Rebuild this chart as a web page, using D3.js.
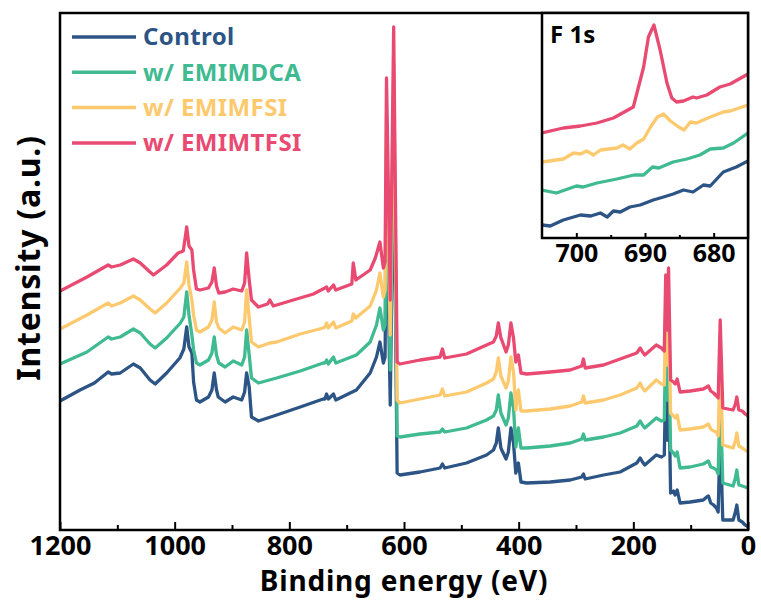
<!DOCTYPE html>
<html>
<head>
<meta charset="utf-8">
<script src="https://cdn.jsdelivr.net/npm/d3@7"></script>
<style>
  html, body { margin: 0; padding: 0; background: #fff; }
  svg { display: block; font-family: "Noto Sans", "Open Sans", sans-serif; font-weight: 700; }
</style>
</head>
<body>
<svg id="chart" width="761" height="604"></svg>
<script>
// Survey spectra: [binding energy (eV), intensity (a.u.)]
const controlSurvey = [
  [1200,129],[1165,140],[1140,147],[1116,158],[1110,156],[1095,157],[1072,166],[1060,162],[1043,150],[1034,146],
  [1014,157],[991,172],[984,181],[979,203],[975,183],[970,177],[967,148],[962,130],[956,128],[941,133],
  [935,140],[931,157],[927,140],[924,133],[912,128],[898,133],[883,130],[878,138],[874.5,157],[870,143],
  [866,113],[854,109],[822,115],[781,123],[741,131],[738,131],[735,136],[732,131],[723,136],[719,130],
  [683,140],[659,157],[648,173],[642,188],[636,167],[633,173],[630.5,341],[624,125],[618,392],[612,57],
  [607,55],[572,58],[537,62],[533,66],[529,62],[491,67],[456,75],[444,80],[439,87],[435.5,102],
  [431,82],[429.5,80],[422,71],[418,78],[413.5,102],[409,87],[405,57],[400.5,67],[396,48],[386,47],
  [345,48],[310,50],[290,53],[287,56],[284,51],[252,55],[223,58],[194,67],[188,72],[184,68],
  [180,65],[160,75],[151,73],[146,75],[143.5,152],[141,90],[138.6,160],[135,37],[130,39],[127,35],
  [123.5,40],[118.5,27],[101,28],[78,30],[72,33],[69,34],[65,27],[60,25],[55,22],[52,18],
  [48.5,100],[44,10],[26,10],[22,18],[19.5,25],[16,10],[10,8],[5,5],[0,3]
];
const dcaSurvey = [
  [1200,166],[1153,178],[1116,193],[1110,191],[1095,193],[1072,201],[1060,197],[1043,186],[1034,182],[1014,192],
  [990,207],[984,213],[979,238],[975,215],[970,195],[967,180],[962,167],[956,165],[941,170],[935,177],
  [931,193],[927,175],[923,167],[912,163],[898,169],[883,165],[878,173],[874.5,200],[870,175],[866,152],
  [854,147],[822,152],[781,159],[741,167],[738,167],[735,170],[732,166],[723,173],[719,167],[683,175],
  [659,188],[648,205],[642,222],[636,200],[633,205],[630.5,378],[624,160],[618,429],[612,94],[607,93],
  [572,96],[537,98],[533,101],[529,98],[491,102],[456,110],[444,114],[439,120],[435.5,135],[431,117],
  [429.5,115],[422,105],[418,112],[413.5,137],[409,122],[405,83],[400.5,102],[396,82],[386,82],[345,84],
  [310,87],[290,91],[287,96],[284,90],[252,93],[223,97],[194,104],[188,109],[184,105],[180,102],
  [160,112],[151,109],[146,110],[143.5,185],[141,130],[138.6,190],[135,80],[130,77],[127,74],[123.5,78],
  [118.5,62],[101,63],[78,66],[72,68],[69,69],[65,63],[60,62],[55,60],[52,56],[48.5,138],
  [44,47],[26,44],[22,52],[19.5,60],[16,45],[10,44],[5,43],[0,42]
];
const fsiSurvey = [
  [1200,201],[1153,215],[1116,227],[1110,224],[1095,227],[1072,234],[1060,230],[1043,221],[1034,217],[1014,227],
  [990,242],[984,247],[979,268],[975,245],[970,230],[967,215],[962,200],[956,198],[941,203],[935,210],
  [931,228],[927,208],[923,202],[912,197],[898,203],[883,200],[878,208],[874.5,240],[870,212],[866,188],
  [854,183],[834,187],[822,188],[781,196],[741,202],[738,203],[735,207],[732,202],[723,208],[719,202],
  [691,209],[688.5,216],[684,212],[659,224],[648,240],[642,257],[636,233],[633,240],[630.5,415],[624,195],
  [618,466],[612,130],[607,127],[572,131],[537,135],[533,141],[529,134],[491,138],[456,147],[444,151],
  [439,158],[435.5,172],[431,154],[429.5,152],[422,142],[418,149],[413.5,173],[409,158],[405,120],[400.5,140],
  [396,119],[386,119],[345,121],[310,124],[290,128],[287,134],[284,127],[252,130],[223,135],[194,142],
  [188,147],[184,142],[180,139],[160,150],[151,146],[146,145],[143.5,220],[141,165],[138.6,226],[135,117],
  [130,114],[127,112],[123.5,115],[118.5,100],[101,101],[78,103],[72,105],[69,106],[65,101],[60,99],
  [55,98],[52,94],[48.5,174],[44,85],[26,82],[22,89],[19.5,97],[16,84],[10,82],[5,80],[0,78]
];
const tfsiSurvey = [
  [1200,239],[1153,253],[1116,265],[1110,263],[1095,265],[1072,271],[1060,267],[1043,258],[1037,255],[1014,265],
  [994,277],[985,279],[979,303],[975,284],[970,280],[967,260],[962,241],[956,240],[941,242],[935,248],
  [931,262],[927,244],[923,237],[912,238],[898,241],[883,239],[878,247],[874.5,277],[870,250],[866,230],
  [854,223],[838,226],[834,230],[828,224],[793,230],[758,236],[738,242],[735,243],[732,239],[723,245],
  [719,240],[691,246],[688.5,267],[684,250],[659,260],[650,272],[642,288],[636,262],[633,268],[630.5,452],
  [624,230],[618,503],[612,168],[607,166],[572,170],[537,173],[533,181],[529,172],[491,176],[456,185],
  [444,188],[439,194],[435.5,207],[431,192],[429.5,190],[422,178],[418,185],[413.5,207],[409,192],[405,168],
  [400.5,175],[396,157],[386,156],[345,158],[310,160],[290,164],[287,171],[284,162],[252,165],[223,171],
  [194,177],[188,182],[184,178],[180,175],[160,185],[151,182],[146,179],[143.5,255],[141,200],[138.6,262],
  [135,150],[130,148],[127,146],[123.5,151],[118.5,138],[101,139],[78,141],[72,143],[69,144],[65,139],
  [60,137],[55,134],[52,132],[48.5,210],[44,122],[26,120],[22,126],[19.5,133],[16,120],[10,119],[5,116],[0,114]
];

// F 1s high-resolution region
const controlF1s = [
  [705,13],[703.8,12],[701.9,18],[699.4,23],[697.9,22],[696.5,25],[695.5,21],[694.6,27],[693.6,26],[692.2,31],
  [690.7,33],[688.8,38],[687.3,41],[685.9,44],[684.4,48],[683,46],[681.5,53],[680.5,52],[678.6,66],[676.7,71],[675,77]
];
const dcaF1s = [
  [705,48],[702.9,45],[700,52],[699,51],[697,55],[694.1,59],[691.6,63],[690.2,63],[688.9,71],[688,70],
  [685.9,76],[683.9,79],[682,83],[680.5,89],[678.6,90],[677.1,95],[675,105]
];
const fsiF1s = [
  [705,76],[701.9,79],[700.4,85],[699.4,84],[698.5,87],[697.5,83],[696.5,88],[694.1,90],[693.2,93],[692.2,89],
  [691.2,95],[690.2,99],[689.2,111],[688.2,121],[687.3,124],[686.3,117],[685.1,111],[684.3,108],[683.4,116],[682.5,115],
  [680.5,121],[678.6,126],[677.6,127],[675,133]
];
const tfsiF1s = [
  [705,105],[701.9,110],[699.4,112],[697,115],[694.6,120],[691.7,131],[690.2,171],[689.5,201],[688.7,213],[687.8,188],
  [686.8,155],[686.1,140],[685.4,136],[684.4,137],[683,141],[682.5,140],[681,143],[679.1,151],[677.6,154],[675,164]
];

const seriesNames = ["Control", "w/ EMIMDCA", "w/ EMIMFSI", "w/ EMIMTFSI"];
const seriesColors = ["#2c5485", "#3fba91", "#fdc96e", "#e84a72"];
const surveyData = [controlSurvey, dcaSurvey, fsiSurvey, tfsiSurvey];
const f1sData = [controlF1s, dcaF1s, fsiF1s, tfsiF1s];

const majorTicks = [1200, 1000, 800, 600, 400, 200, 0];
const minorTicks = [1100, 900, 700, 500, 300, 100];
const insetMajorTicks = [700, 690, 680];
const insetMinorTicks = [695, 685];

const svg = d3.select("#chart");

// ---- main survey panel ----
const M = { left: 60, right: 748, top: 13, bottom: 530 };
const x = d3.scaleLinear().domain([1200, 0]).range([M.left, M.right]);
const y = d3.scaleLinear().domain([0, 517]).range([M.bottom, M.top]);

const line = d3.line().x(d => x(d[0])).y(d => y(d[1]));

svg.append("defs").append("clipPath").attr("id", "mainClip")
  .append("rect").attr("x", M.left).attr("y", M.top)
  .attr("width", M.right - M.left).attr("height", M.bottom - M.top);

const curves = svg.append("g").attr("clip-path", "url(#mainClip)");
surveyData.forEach((d, i) => {
  curves.append("path").datum(d)
    .attr("d", line)
    .attr("fill", "none")
    .attr("stroke", seriesColors[i])
    .attr("stroke-width", 3.3)
    .attr("stroke-linejoin", "round");
});

// x axis with inward ticks
const xAxis = svg.append("g").attr("transform", `translate(0,${M.bottom})`)
  .call(d3.axisBottom(x).tickValues(majorTicks).tickFormat(d3.format("d"))
    .tickSizeInner(-8).tickSizeOuter(0).tickPadding(6));
xAxis.select(".domain").remove();
xAxis.selectAll("line").attr("stroke", "#000").attr("stroke-width", 2);
xAxis.selectAll("text").attr("font-size", 27).attr("font-weight", 700).attr("fill", "#000")
  .attr("font-family", "Noto Sans, sans-serif");

const xMinor = svg.append("g").attr("transform", `translate(0,${M.bottom})`)
  .call(d3.axisBottom(x).tickValues(minorTicks).tickFormat("").tickSizeInner(-5).tickSizeOuter(0));
xMinor.select(".domain").remove();
xMinor.selectAll("line").attr("stroke", "#000").attr("stroke-width", 2);

// frame
svg.append("rect").attr("x", M.left).attr("y", M.top)
  .attr("width", M.right - M.left).attr("height", M.bottom - M.top)
  .attr("fill", "none").attr("stroke", "#000").attr("stroke-width", 2.5);

// axis titles
svg.append("text").attr("x", (M.left + M.right) / 2).attr("y", 591)
  .attr("text-anchor", "middle").attr("font-size", 28).attr("letter-spacing", 0.8).attr("fill", "#000")
  .text("Binding energy (eV)");
svg.append("text").attr("transform", "translate(40,258) rotate(-90)")
  .attr("text-anchor", "middle").attr("font-size", 32).attr("letter-spacing", 0.8).attr("fill", "#000")
  .text("Intensity (a.u.)");

// legend
const legend = svg.append("g");
seriesNames.forEach((name, i) => {
  const ly = 37 + i * 35.3;
  legend.append("line").attr("x1", 72).attr("x2", 136).attr("y1", ly).attr("y2", ly)
    .attr("stroke", seriesColors[i]).attr("stroke-width", 3.5);
  legend.append("text").attr("x", 143).attr("y", ly).attr("dy", "0.35em")
    .attr("font-size", 24).attr("letter-spacing", 0.4).attr("fill", seriesColors[i]).text(name);
});

// ---- F 1s inset ----
const I = { left: 542, right: 748, top: 13, bottom: 238 };
const xi = d3.scaleLinear().domain([705, 675]).range([I.left, I.right]);
const yi = d3.scaleLinear().domain([0, 225]).range([I.bottom, I.top]);
const lineInset = d3.line().x(d => xi(d[0])).y(d => yi(d[1]));

svg.append("rect").attr("x", I.left).attr("y", I.top)
  .attr("width", I.right - I.left).attr("height", I.bottom - I.top).attr("fill", "#fff");

svg.select("defs").append("clipPath").attr("id", "insetClip")
  .append("rect").attr("x", I.left).attr("y", I.top)
  .attr("width", I.right - I.left).attr("height", I.bottom - I.top);

const insetCurves = svg.append("g").attr("clip-path", "url(#insetClip)");
f1sData.forEach((d, i) => {
  insetCurves.append("path").datum(d)
    .attr("d", lineInset)
    .attr("fill", "none")
    .attr("stroke", seriesColors[i])
    .attr("stroke-width", 3.3)
    .attr("stroke-linejoin", "round");
});

const xiAxis = svg.append("g").attr("transform", `translate(0,${I.bottom})`)
  .call(d3.axisBottom(xi).tickValues(insetMajorTicks).tickFormat(d3.format("d"))
    .tickSizeInner(-5).tickSizeOuter(0).tickPadding(6));
xiAxis.select(".domain").remove();
xiAxis.selectAll("line").attr("stroke", "#000").attr("stroke-width", 2);
xiAxis.selectAll("text").attr("font-size", 25).attr("font-weight", 700).attr("fill", "#000")
  .attr("font-family", "Noto Sans, sans-serif");

const xiMinor = svg.append("g").attr("transform", `translate(0,${I.bottom})`)
  .call(d3.axisBottom(xi).tickValues(insetMinorTicks).tickFormat("").tickSizeInner(-3).tickSizeOuter(0));
xiMinor.select(".domain").remove();
xiMinor.selectAll("line").attr("stroke", "#000").attr("stroke-width", 2);

svg.append("rect").attr("x", I.left).attr("y", I.top)
  .attr("width", I.right - I.left).attr("height", I.bottom - I.top)
  .attr("fill", "none").attr("stroke", "#000").attr("stroke-width", 2.5);

svg.append("text").attr("x", 550).attr("y", 43)
  .attr("font-size", 24).attr("fill", "#000").text("F 1s");
</script>
</body>
</html>
